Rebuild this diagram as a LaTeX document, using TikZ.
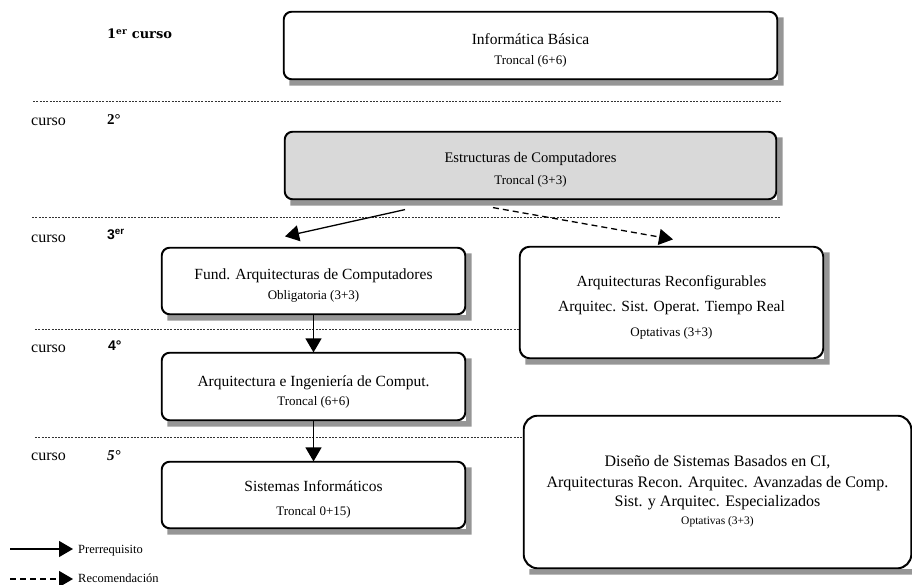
\documentclass[tikz,border=0pt]{standalone}
\usepackage{fontspec}
\setmainfont{Liberation Serif}
\newfontfamily\yearserif{DejaVu Serif}
\newfontfamily\yearsans{Liberation Sans}
\usetikzlibrary{arrows.meta,calc}
\definecolor{dropgray}{RGB}{150,150,150}
\definecolor{boxgray}{RGB}{217,217,217}
\begin{document}
\begin{tikzpicture}[x=1pt,y=-1pt,
  course/.style={draw=black, line width=1.2pt, rounded corners=8pt, fill=white,
    inner sep=0pt},
  ttl/.style={anchor=base, inner sep=0pt, font=\fontsize{15.5}{18}\selectfont},
  sub/.style={anchor=base, inner sep=0pt, font=\fontsize{13}{15}\selectfont},
  sep/.style={draw=black!80, line width=0.9pt, dash pattern=on 2pt off 1.3pt},
  prereq/.style={line width=1.3pt, -{Triangle[length=14pt,width=16pt]}},
  recom/.style={prereq, dash pattern=on 6pt off 4pt},
  yr/.style={anchor=base west, inner sep=0pt, font=\fontsize{16}{18}\selectfont},
  legend/.style={anchor=base west, inner sep=0pt, font=\fontsize{12.5}{14}\selectfont},
]
\useasboundingbox (0,0) rectangle (912,585);

% course separators
\draw[sep] (33,101) -- (781,101);
\draw[sep] (32,217) -- (780,217);

% subject boxes
\node[course, minimum width=493pt, minimum height=67pt] (ib) at (530.5,45.5) {};
\node[course, fill=boxgray, minimum width=491pt, minimum height=67pt] (ec) at (530.5,165.5) {};
\node[course, minimum width=303pt, minimum height=66pt] (fa) at (313.5,281) {};
\node[course, rounded corners=10pt, minimum width=303pt, minimum height=111pt] (ar) at (671.5,302.5) {};
\node[course, minimum width=303pt, minimum height=67pt] (ai) at (313.5,386.5) {};
\node[course, minimum width=303pt, minimum height=66pt] (si) at (313.5,495) {};
\node[course, rounded corners=14pt, minimum width=387pt, minimum height=152pt] (ds) at (717.5,492) {};

% drop shadows: an L-shaped strip along the right and bottom of each box
\foreach \b in {ib,ec,fa,ar,ai,si,ds}{
  \fill[dropgray]
    ([xshift=0.6pt,yshift=-6pt]\b.north east) -- ([xshift=6pt,yshift=-6pt]\b.north east)
    -- ([xshift=6pt,yshift=-6pt]\b.south east) -- ([xshift=6pt,yshift=-6pt]\b.south west)
    -- ([yshift=-0.6pt,xshift=6pt]\b.south west) -- ([xshift=0.6pt,yshift=-0.6pt]\b.south east) -- cycle;
}

% redraw the box outlines over the shadow strips
\foreach \b in {ib,ec,fa,ai,si}
  \draw[line width=1.2pt, rounded corners=8pt] (\b.north west) rectangle (\b.south east);
\draw[line width=1.2pt, rounded corners=10pt] (ar.north west) rectangle (ar.south east);
\draw[line width=1.2pt, rounded corners=14pt] (ds.north west) rectangle (ds.south east);

% box texts
\node[ttl] (ib-a) at (530.5,45) {Informática Básica};
\node[sub] (ib-b) at (530.5,65) {Troncal (6+6)};
\node[ttl, font=\fontsize{14.6}{17}\selectfont] (ec-a) at (530.5,163) {Estructuras de Computadores};
\node[sub] (ec-b) at (530.5,185) {Troncal (3+3)};
\node[ttl] (fa-a) at (313.5,279) {Fund. Arquitecturas de Computadores};
\node[sub] (fa-b) at (313.5,299) {Obligatoria (3+3)};
\node[ttl] (ar-a) at (671.5,286) {Arquitecturas Reconfigurables};
\node[ttl] (ar-b) at (671.5,311) {Arquitec. Sist. Operat. Tiempo Real};
\node[sub] (ar-c) at (671.5,336) {Optativas (3+3)};
\node[ttl] (ai-a) at (313.5,386) {Arquitectura e Ingeniería de Comput.};
\node[sub] (ai-b) at (313.5,405) {Troncal (6+6)};
\node[ttl] (si-a) at (313.5,491) {Sistemas Informáticos};
\node[sub] (si-b) at (313.5,515) {Troncal 0+15)};
\node[ttl, font=\fontsize{16}{18}\selectfont] (ds-a) at (717.5,466) {Diseño de Sistemas Basados en CI,};
\node[ttl, font=\fontsize{16}{18}\selectfont] (ds-b) at (717.5,487) {Arquitecturas Recon. Arquitec. Avanzadas de Comp.};
\node[ttl, font=\fontsize{16}{18}\selectfont] (ds-c) at (717.5,506) {Sist. y Arquitec. Especializados};
\node[sub, font=\fontsize{11.5}{13}\selectfont] (ds-d) at (717.5,524) {Optativas (3+3)};

% separators ending at the optional boxes
\draw[sep] (35,329) -- (ar.west |- 0,329);
\draw[sep] (35,437) -- (ds.west |- 0,437);

% year labels
\node[anchor=base west, inner sep=0pt, font=\yearserif\bfseries\fontsize{13}{15}\selectfont] (y1) at (107,39) {1\textsuperscript{er} curso};
\node[yr] (c2) at (31,126) {curso};
\node[anchor=base west, inner sep=0pt, font=\bfseries\fontsize{15}{17}\selectfont] (y2) at (107,125) {2°};
\node[yr] (c3) at (31,243) {curso};
\node[anchor=base west, inner sep=0pt, font=\yearsans\bfseries\fontsize{14}{16}\selectfont] (y3) at (107,240) {3\textsuperscript{er}};
\node[yr] (c4) at (31,352) {curso};
\node[anchor=base west, inner sep=0pt, font=\yearsans\bfseries\fontsize{14}{16}\selectfont] (y4) at (108,350) {4°};
\node[yr] (c5) at (31,460) {curso};
\node[anchor=base west, inner sep=0pt, font=\bfseries\itshape\fontsize{15}{17}\selectfont] (y5) at (107,460) {5°};

% dependencies
\coordinate (ec-l) at ([xshift=-125.5pt,yshift=-10pt]ec.south);
\coordinate (fa-t) at ([xshift=-28.5pt,yshift=11pt]fa.north);
\coordinate (ec-r) at ([xshift=-37.5pt,yshift=-8pt]ec.south);
\coordinate (ar-t) at ([xshift=1.5pt,yshift=7pt]ar.north);
\draw[prereq] (ec-l) -- (fa-t);
\draw[recom] (ec-r) -- (ar-t);
\draw[prereq] (fa.south) -- (ai.north);
\draw[prereq] (ai.south) -- (si.north);

% legend
\coordinate (lg1s) at (10,549);
\coordinate (lg1e) at (73,549);
\coordinate (lg2s) at (10,579);
\coordinate (lg2e) at (73,579);
\draw[prereq] (lg1s) -- (lg1e);
\draw[recom] (lg2s) -- (lg2e);
\node[legend] (lg1) at (78,553) {Prerrequisito};
\node[legend] (lg2) at (78,582) {Recomendación};
\end{tikzpicture}
\end{document}
